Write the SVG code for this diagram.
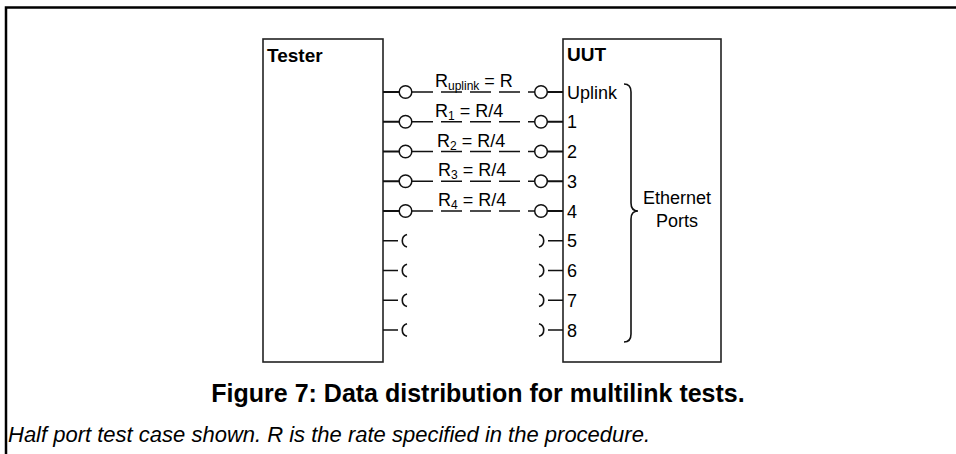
<svg xmlns="http://www.w3.org/2000/svg" width="956" height="454" viewBox="0 0 956 454">
<style>
text{font-family:"Liberation Sans",Arial,sans-serif;fill:#000}
.box{fill:#fff;stroke:#222;stroke-width:1.6}
.hd{font-weight:bold;font-size:19px}
.lb{font-size:18px}
.stub{stroke:#111;stroke-width:2;fill:none}
.port{stroke:#111;stroke-width:1.5;fill:#fff}
.half{stroke:#111;stroke-width:1.6;fill:none}
.dash{stroke:#111;stroke-width:1.3;stroke-dasharray:21 8;fill:none}
</style>
<rect width="956" height="454" fill="#fff"/>
<path d="M6,454 V7.5 H956" fill="none" stroke="#000" stroke-width="2.5"/>

<g id="tester">
<rect class="box" x="263" y="39" width="120" height="323"/>
<text class="hd" x="267" y="61.5">Tester</text>
</g>

<g id="uut">
<rect class="box" x="563" y="39" width="158" height="323"/>
<text class="hd" x="567" y="61">UUT</text>
<text class="lb" x="567" y="98.5">Uplink</text>
<text class="lb" x="567" y="128.2">1</text>
<text class="lb" x="567" y="158">2</text>
<text class="lb" x="567" y="187.7">3</text>
<text class="lb" x="567" y="217.5">4</text>
<text class="lb" x="567" y="247.2">5</text>
<text class="lb" x="567" y="277">6</text>
<text class="lb" x="567" y="306.7">7</text>
<text class="lb" x="567" y="336.5">8</text>
<path class="half" d="M624,84 Q631,84 631,92 V203 Q631,211 638,211 Q631,211 631,219 V334 Q631,342 624,342"/>
<text class="lb" x="677" y="204" text-anchor="middle">Ethernet</text>
<text class="lb" x="677" y="227" text-anchor="middle">Ports</text>
</g>

<g id="connectors">
<g>
<path class="dash" d="M412,92 H535 M412,121.75 H535 M412,151.5 H535 M412,181.25 H535 M412,211 H535"/>
<path class="stub" d="M383,92 H399 M383,121.75 H399 M383,151.5 H399 M383,181.25 H399 M383,211 H399"/>
<path class="stub" d="M547,92 H563 M547,121.75 H563 M547,151.5 H563 M547,181.25 H563 M547,211 H563"/>
<circle class="port" cx="405.5" cy="92" r="6.3"/>
<circle class="port" cx="405.5" cy="121.75" r="6.3"/>
<circle class="port" cx="405.5" cy="151.5" r="6.3"/>
<circle class="port" cx="405.5" cy="181.25" r="6.3"/>
<circle class="port" cx="405.5" cy="211" r="6.3"/>
<circle class="port" cx="541" cy="92" r="6.3"/>
<circle class="port" cx="541" cy="121.75" r="6.3"/>
<circle class="port" cx="541" cy="151.5" r="6.3"/>
<circle class="port" cx="541" cy="181.25" r="6.3"/>
<circle class="port" cx="541" cy="211" r="6.3"/>
</g>
<g>
<path class="half" d="M383,240.75 H398 M383,270.5 H398 M383,300.25 H398 M383,330 H398"/>
<path class="half" d="M548,240.75 H563 M548,270.5 H563 M548,300.25 H563 M548,330 H563"/>
<path class="half" d="M407,234.5 A6.5,6.5 0 0 0 407,247 M407,264.25 A6.5,6.5 0 0 0 407,276.75 M407,294 A6.5,6.5 0 0 0 407,306.5 M407,323.75 A6.5,6.5 0 0 0 407,336.25"/>
<path class="half" d="M539,234.5 A6.5,6.5 0 0 1 539,247 M539,264.25 A6.5,6.5 0 0 1 539,276.75 M539,294 A6.5,6.5 0 0 1 539,306.5 M539,323.75 A6.5,6.5 0 0 1 539,336.25"/>
</g>
<text class="lb" x="435" y="87">R<tspan font-size="12" dy="3">uplink</tspan><tspan dy="-3"> = R</tspan></text>
<text class="lb" x="435" y="117">R<tspan font-size="12" dy="3">1</tspan><tspan dy="-3"> = R/4</tspan></text>
<text class="lb" x="437" y="146.5">R<tspan font-size="12" dy="3">2</tspan><tspan dy="-3"> = R/4</tspan></text>
<text class="lb" x="438" y="176.25">R<tspan font-size="12" dy="3">3</tspan><tspan dy="-3"> = R/4</tspan></text>
<text class="lb" x="438" y="206">R<tspan font-size="12" dy="3">4</tspan><tspan dy="-3"> = R/4</tspan></text>
</g>

<g id="caption">
<text x="478" y="402" text-anchor="middle" font-weight="bold" font-size="25">Figure 7: Data distribution for multilink tests.</text>
<text x="8" y="442" font-style="italic" font-size="22">Half port test case shown. R is the rate specified in the procedure.</text>
</g>
</svg>
